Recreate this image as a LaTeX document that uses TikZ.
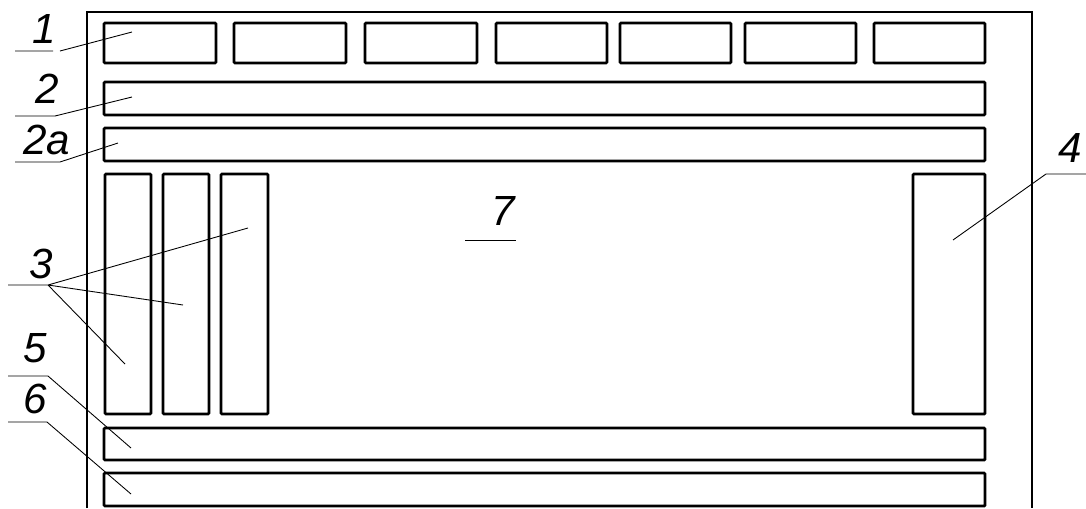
\documentclass[tikz,border=0pt]{standalone}
\usepackage{fontspec}
\setmainfont{Liberation Sans}
\usetikzlibrary{fit}

\begin{document}
\begin{tikzpicture}[
    x=0.02cm, y=-0.02cm,
    box/.style={rectangle, draw=black, line width=1.5pt, rounded corners=0.5pt, inner sep=0pt},
    frame/.style={draw=black, line width=0.7pt},
    leader/.style={draw=black, line width=0.5pt},
    tag/.style={font=\fontsize{24}{28}\selectfont\itshape, inner sep=0pt, anchor=base}
]
\useasboundingbox (0,0) rectangle (1086,508);
% frame
\draw[frame] (87,508) -- (87,12) -- (1032,12) -- (1032,508);
% top row
\foreach \xa/\xb [count=\i] in {104/216, 234/346, 365/477, 496/607, 620/731, 745/856, 874/985}
    \node[box, fit={(\xa,23) (\xb,63)}] (top\i) {};
% bars
\node[box, fit={(104,82) (985,115)}]  (bar2)  {};
\node[box, fit={(104,128) (985,161)}] (bar2a) {};
\node[box, fit={(104,428) (985,460)}] (bar5)  {};
\node[box, fit={(104,473) (985,506)}] (bar6)  {};
% columns
\node[box, fit={(105,174) (151,414)}] (col1) {};
\node[box, fit={(163,174) (209,414)}] (col2) {};
\node[box, fit={(221,174) (268,414)}] (col3) {};
\node[box, fit={(913,174) (985,414)}] (col4) {};

% labels
\node[tag] (t1)  at (44,43)  {1};
\node[tag] (t2)  at (47,103) {2};
\node[tag] (t2a) at (47,154) {2a};
\node[tag] (t3)  at (41,278) {3};
\node[tag] (t4)  at (1070,162) {4};
\node[tag] (t5)  at (35,362) {5};
\node[tag] (t6)  at (35,413) {6};
\node[tag] (t7)  at (503,225) {7};

% leader points
\coordinate (p1)  at (132,32);
\coordinate (p2)  at (132,97);
\coordinate (p2a) at (118,143);
\coordinate (p3a) at (248,228);
\coordinate (p3b) at (183,305);
\coordinate (p3c) at (125,364);
\coordinate (p4)  at (953,240);
\coordinate (p5)  at (131,448);
\coordinate (p6)  at (131,494);

\draw[leader] (15,51) -- (53,51) (60,51) -- (p1);
\draw[leader] (15,116) -- (55,116) -- (p2);
\draw[leader] (15,162) -- (60,162) -- (p2a);
\draw[leader] (8,285) -- (48,285) -- (p3a) (48,285) -- (p3b) (48,285) -- (p3c);
\draw[leader] (1086,174) -- (1046,174) -- (p4);
\draw[leader] (8,376) -- (48,376) -- (p5);
\draw[leader] (8,422) -- (47,422) -- (p6);
\draw[leader] (465,240) -- (516,240);
\end{tikzpicture}
\end{document}
